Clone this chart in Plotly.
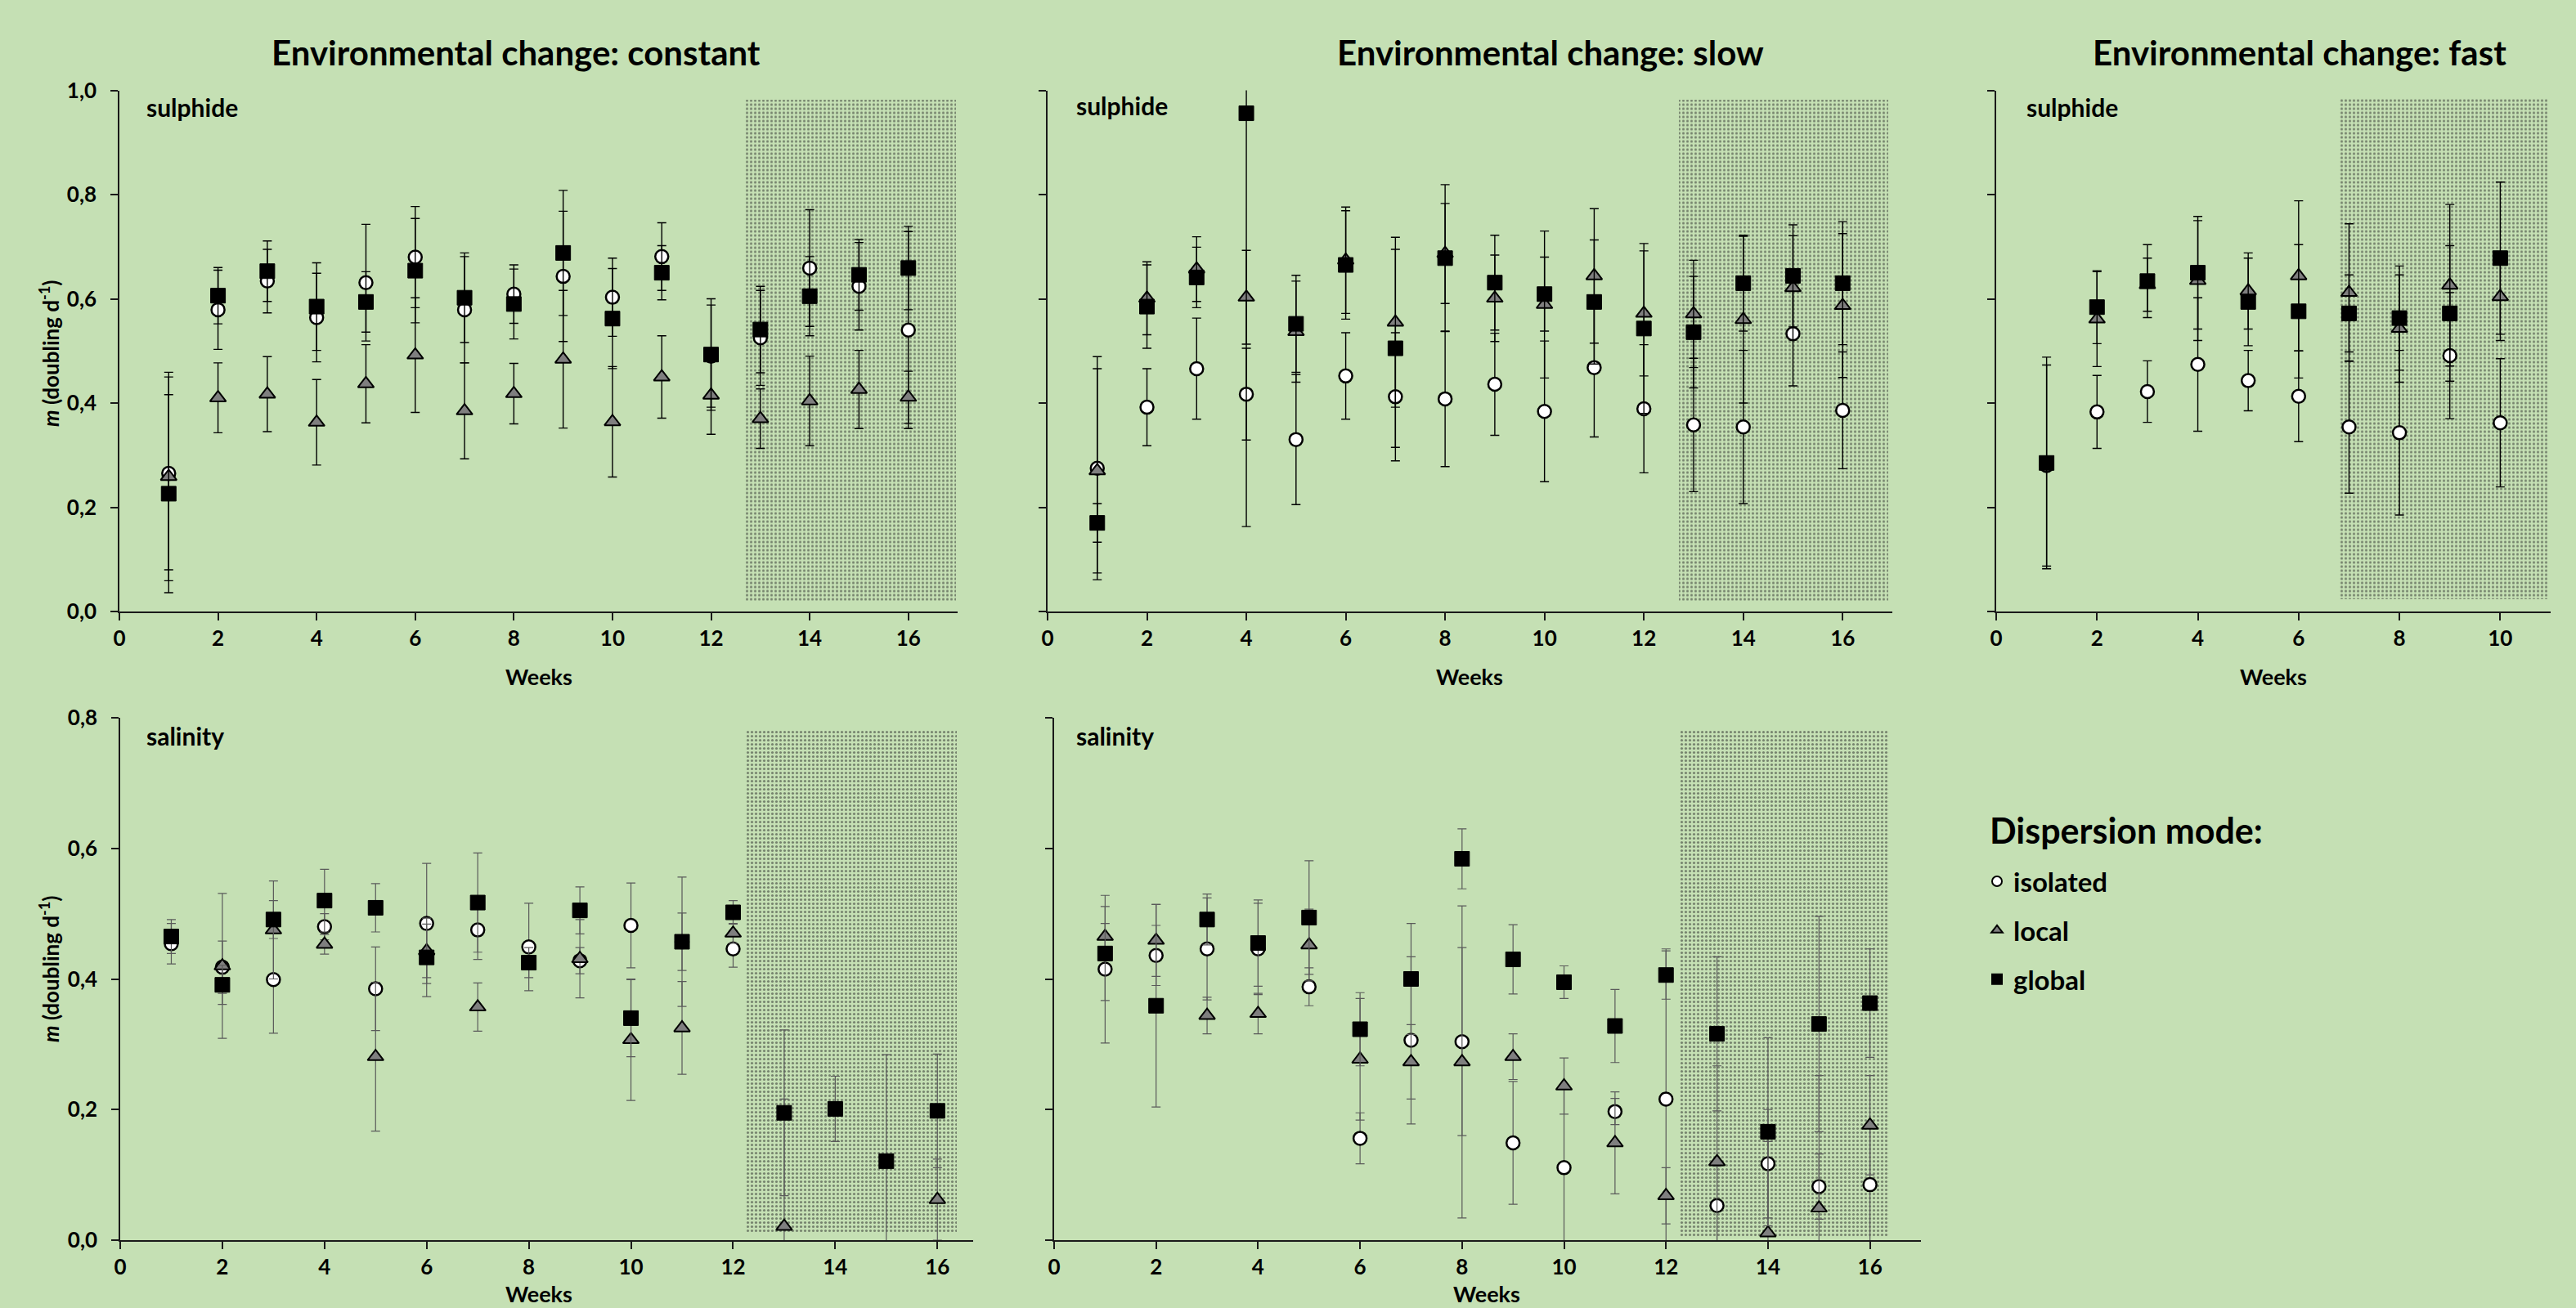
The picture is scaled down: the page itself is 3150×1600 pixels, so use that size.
import plotly.graph_objects as go

# ---------------- data ----------------
weeks16 = list(range(1, 17))
weeks10 = list(range(1, 11))

# sulphide, constant
sc_iso = [0.265, 0.579, 0.634, 0.564, 0.631, 0.680, 0.579, 0.609, 0.643, 0.603, 0.681, 0.490, 0.525, 0.659, 0.624, 0.540]
sc_iso_err = [0.185, 0.076, 0.061, 0.085, 0.112, 0.097, 0.102, 0.056, 0.125, 0.075, 0.065, 0.098, 0.091, 0.112, 0.084, 0.189]
sc_loc = [0.259, 0.410, 0.417, 0.363, 0.437, 0.492, 0.385, 0.418, 0.484, 0.364, 0.450, 0.415, 0.370, 0.404, 0.426, 0.411]
sc_loc_err = [0.200, 0.067, 0.072, 0.082, 0.075, 0.110, 0.092, 0.058, 0.132, 0.106, 0.079, 0.075, 0.057, 0.086, 0.075, 0.050]
sc_glo = [0.226, 0.606, 0.653, 0.585, 0.594, 0.654, 0.602, 0.590, 0.688, 0.562, 0.650, 0.493, 0.541, 0.605, 0.646, 0.659]
sc_glo_err = [0.190, 0.054, 0.058, 0.084, 0.058, 0.100, 0.086, 0.067, 0.120, 0.096, 0.052, 0.107, 0.083, 0.076, 0.068, 0.080]

# sulphide, slow
ss_iso = [0.275, 0.392, 0.466, 0.417, 0.330, 0.452, 0.412, 0.408, 0.436, 0.384, 0.468, 0.389, 0.358, 0.354, 0.533, 0.386]
ss_iso_err = [0.214, 0.074, 0.097, 0.088, 0.125, 0.083, 0.123, 0.130, 0.098, 0.135, 0.133, 0.123, 0.128, 0.147, 0.100, 0.112]
ss_loc = [0.270, 0.601, 0.657, 0.603, 0.537, 0.674, 0.555, 0.687, 0.601, 0.589, 0.644, 0.572, 0.571, 0.560, 0.621, 0.587]
ss_loc_err = [0.196, 0.070, 0.062, 0.090, 0.097, 0.102, 0.163, 0.096, 0.083, 0.141, 0.129, 0.120, 0.103, 0.160, 0.100, 0.138]
ss_glo = [0.170, 0.585, 0.641, 0.956, 0.552, 0.665, 0.505, 0.678, 0.631, 0.609, 0.594, 0.543, 0.536, 0.630, 0.644, 0.630]
ss_glo_err = [0.037, 0.080, 0.058, 0.793, 0.093, 0.104, 0.190, 0.141, 0.091, 0.071, 0.119, 0.163, 0.107, 0.092, 0.098, 0.118]

# sulphide, fast
sf_iso = [0.280, 0.383, 0.422, 0.474, 0.443, 0.413, 0.354, 0.343, 0.491, 0.362]
sf_iso_err = [0.193, 0.070, 0.059, 0.128, 0.058, 0.087, 0.127, 0.158, 0.121, 0.123]
sf_loc = [None, 0.561, 0.627, 0.635, 0.615, 0.644, 0.612, 0.543, 0.626, 0.604]
sf_loc_err = [0, 0.091, 0.051, 0.115, 0.073, 0.144, 0.132, 0.103, 0.155, 0.084]
sf_glo = [0.285, 0.584, 0.634, 0.650, 0.594, 0.576, 0.572, 0.563, 0.572, 0.678]
sf_glo_err = [0.203, 0.070, 0.070, 0.108, 0.084, 0.128, 0.074, 0.100, 0.130, 0.146]

# salinity, constant
lc_iso = [0.454, 0.418, 0.399, 0.480, 0.385, 0.485, 0.475, 0.449, 0.428, 0.482, 0.457, 0.446, None, None, None, None]
lc_iso_err = [0.031, 0.040, 0.082, 0.020, 0.064, 0.092, 0.045, 0.067, 0.020, 0.065, 0.099, 0.028, 0, 0, 0, 0]
lc_loc = [None, 0.420, 0.475, 0.453, 0.281, 0.443, 0.357, None, 0.431, 0.307, 0.325, 0.470, 0.021, None, None, 0.062]
lc_loc_err = [0, 0.111, 0.075, 0.015, 0.114, 0.041, 0.037, 0, 0.060, 0.093, 0.071, 0.015, 0.195, 0, 0, 0.062]
lc_glo = [0.465, 0.391, 0.491, 0.520, 0.509, 0.433, 0.517, 0.425, 0.505, 0.340, 0.457, 0.502, 0.195, 0.201, 0.121, 0.198]
lc_glo_err = [0.026, 0.030, 0.029, 0.048, 0.037, 0.060, 0.076, 0.023, 0.036, 0.059, 0.044, 0.018, 0.127, 0.050, 0.163, 0.087]

# salinity, slow
ls_iso = [0.415, 0.436, 0.446, 0.446, 0.388, 0.156, 0.306, 0.304, 0.149, 0.111, 0.197, 0.216, 0.053, 0.117, 0.082, 0.085]
ls_iso_err = [0.113, 0.046, 0.078, 0.070, 0.029, 0.039, 0.128, 0.144, 0.094, 0.120, 0.020, 0.230, 0.060, 0.083, 0.050, 0.090]
ls_loc = [0.465, 0.459, 0.344, 0.347, 0.452, 0.277, 0.273, 0.273, 0.281, 0.236, 0.149, 0.068, 0.120, 0.011, 0.049, 0.176]
ls_loc_err = [0.020, 0.055, 0.028, 0.031, 0.055, 0.093, 0.057, 0.239, 0.035, 0.043, 0.078, 0.043, 0.147, 0.140, 0.203, 0.076]
ls_glo = [0.439, 0.359, 0.491, 0.455, 0.494, 0.323, 0.400, 0.584, 0.430, 0.395, 0.328, 0.406, 0.316, 0.166, 0.331, 0.363]
ls_glo_err = [0.072, 0.155, 0.039, 0.066, 0.087, 0.056, 0.085, 0.046, 0.053, 0.025, 0.056, 0.037, 0.118, 0.144, 0.165, 0.083]

# shaded (changed-environment) periods: week start, week end, value low, value high
shade_sc = (12.70, 16.96, 0.019, 0.983)
shade_ss = (12.70, 16.92, 0.019, 0.983)
shade_sf = (6.79, 10.94, 0.024, 0.985)
shade_lc = (12.26, 16.38, 0.012, 0.783)
shade_ls = (12.27, 16.37, 0.006, 0.780)

series_names = ["isolated", "local", "global"]
x_ticks16 = list(range(0, 17, 2))
x_ticks10 = list(range(0, 11, 2))
y_ticks_sulph = [0.0, 0.2, 0.4, 0.6, 0.8, 1.0]
y_ticks_sal = [0.0, 0.2, 0.4, 0.6, 0.8]

# ---------------- style ----------------
W, H = 3150, 1600
BG = "#C5E0B4"
FONT = "Lato"


def px(x):
    return x / W


def py(y):
    return 1 - y / H


marker_styles = {
    "isolated": dict(symbol="circle", size=16, color="white", line=dict(color="black", width=2.5)),
    "local": dict(symbol="triangle-up", size=17, color="#7F7F7F", line=dict(color="black", width=2)),
    "global": dict(symbol="square", size=18, color="black", line=dict(color="black", width=1)),
}

fig = go.Figure()

panels = [
    ("", weeks16, (sc_iso, sc_iso_err, sc_loc, sc_loc_err, sc_glo, sc_glo_err), shade_sc, "black", 1.4),
    ("2", weeks16, (ss_iso, ss_iso_err, ss_loc, ss_loc_err, ss_glo, ss_glo_err), shade_ss, "black", 1.4),
    ("3", weeks10, (sf_iso, sf_iso_err, sf_loc, sf_loc_err, sf_glo, sf_glo_err), shade_sf, "black", 1.4),
    ("4", weeks16, (lc_iso, lc_iso_err, lc_loc, lc_loc_err, lc_glo, lc_glo_err), shade_lc, "#5a5a5a", 1.2),
    ("5", weeks16, (ls_iso, ls_iso_err, ls_loc, ls_loc_err, ls_glo, ls_glo_err), shade_ls, "#5a5a5a", 1.2),
]

for i, (ax, wk, vals, shade, ecol, ew) in enumerate(panels):
    xa, ya = "x" + ax, "y" + ax
    x0, x1, y0, y1 = shade
    fig.add_trace(go.Bar(
        x=[(x0 + x1) / 2], y=[y1 - y0], base=[y0], width=[x1 - x0],
        xaxis=xa, yaxis=ya, showlegend=False, hoverinfo="skip",
        marker=dict(color="rgba(0,0,0,0)", line=dict(width=0),
                    pattern=dict(shape=".", fgcolor="#262626", bgcolor="rgba(0,0,0,0)",
                                 size=5, solidity=0.3, fillmode="overlay")),
    ))
    for k, name in enumerate(series_names):
        fig.add_trace(go.Scatter(
            x=wk, y=vals[2 * k], mode="markers", name=name,
            xaxis=xa, yaxis=ya,
            marker=marker_styles[name],
            error_y=dict(type="data", array=vals[2 * k + 1], symmetric=True,
                         color=ecol, thickness=ew, width=5.5),
            showlegend=(i == 0), legendgroup=name,
        ))

# ---------------- axes ----------------
dom_top = [py(748), py(110.5)]
dom_bot = [py(1517), py(878)]
axis_defs = {
    "": dict(x=[px(146), px(1171)], y=dom_top, xr=[0, 17], yr=[0, 1], xt=x_ticks16, yt=y_ticks_sulph, ylab=True),
    "2": dict(x=[px(1281), px(2314)], y=dom_top, xr=[0, 17], yr=[0, 1], xt=x_ticks16, yt=y_ticks_sulph, ylab=False),
    "3": dict(x=[px(2441), px(3119)], y=dom_top, xr=[0, 11], yr=[0, 1], xt=x_ticks10, yt=y_ticks_sulph, ylab=False),
    "4": dict(x=[px(147), px(1190)], y=dom_bot, xr=[0, 16.7], yr=[0, 0.8], xt=x_ticks16, yt=y_ticks_sal, ylab=True),
    "5": dict(x=[px(1289), px(2349)], y=dom_bot, xr=[0, 17], yr=[0, 0.8], xt=x_ticks16, yt=y_ticks_sal, ylab=False),
}
tickfont = dict(family=FONT, size=26, color="black", weight="bold")
for ax, d in axis_defs.items():
    fig.layout["xaxis" + ax] = dict(
        domain=d["x"], range=d["xr"], anchor="y" + ax, showgrid=False, zeroline=False,
        showline=True, linecolor="#1a1a1a", linewidth=1.5, ticks="outside", ticklen=9,
        tickwidth=1.5, tickcolor="#1a1a1a", tickmode="array", tickvals=d["xt"],
        tickfont=tickfont, fixedrange=True, automargin=False,
    )
    fig.layout["yaxis" + ax] = dict(
        domain=d["y"], range=d["yr"], anchor="x" + ax, showgrid=False, zeroline=False,
        showline=True, linecolor="#1a1a1a", linewidth=1.5, ticks="outside", ticklen=9,
        tickwidth=1.5, tickcolor="#1a1a1a", tickmode="array", tickvals=d["yt"],
        tickformat=".1f", showticklabels=d["ylab"], tickfont=tickfont,
        ticklabelstandoff=12, fixedrange=True, automargin=False,
    )

# ---------------- annotations ----------------
ann = []


def text(x, y, s, size, xanchor="center", angle=0):
    ann.append(dict(x=px(x), y=py(y), xref="paper", yref="paper", text=s, showarrow=False,
                    xanchor=xanchor, yanchor="middle", textangle=angle,
                    font=dict(family=FONT, size=size, color="black")))


text(631, 64, "<b>Environmental change: constant</b>", 42)
text(1896, 64, "<b>Environmental change: slow</b>", 42)
text(2812, 64, "<b>Environmental change: fast</b>", 42)
text(177, 131, "<b>sulphide</b>", 30, "left")
text(1314, 129, "<b>sulphide</b>", 30, "left")
text(2476, 131, "<b>sulphide</b>", 30, "left")
text(177, 900, "<b>salinity</b>", 30, "left")
text(1314, 900, "<b>salinity</b>", 30, "left")
text(659, 828, "<b>Weeks</b>", 27)
text(1797, 828, "<b>Weeks</b>", 27)
text(2780, 828, "<b>Weeks</b>", 27)
text(659, 1582, "<b>Weeks</b>", 27)
text(1818, 1582, "<b>Weeks</b>", 27)
text(60, 432, "<b><i>m</i> (doubling d<sup>-1</sup>)</b>", 26, angle=-90)
text(60, 1185, "<b><i>m</i> (doubling d<sup>-1</sup>)</b>", 26, angle=-90)
text(2431, 1015, "<b>Dispersion mode:</b>", 43, "left")

fig.update_layout(
    width=W, height=H, margin=dict(l=0, r=0, t=0, b=0, pad=0, autoexpand=False),
    paper_bgcolor=BG, plot_bgcolor=BG, separators=",.",
    annotations=ann, barmode="overlay", bargap=0,
    font=dict(family=FONT, color="black"),
    legend=dict(
        x=px(2422), y=py(1050), xanchor="left", yanchor="top",
        bgcolor="rgba(0,0,0,0)", borderwidth=0,
        font=dict(family=FONT, size=33, color="black", weight="bold"),
        itemsizing="constant", tracegroupgap=14,
    ),
)

fig.write_html(
    "out.html", config={"displayModeBar": False},
    post_script=("document.body.style.margin='0';"
                 "document.documentElement.style.background='" + BG + "';"),
)
